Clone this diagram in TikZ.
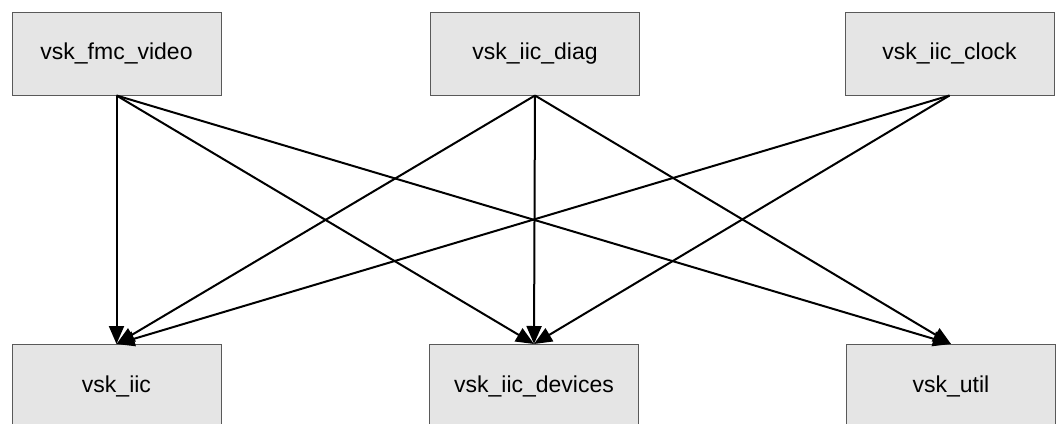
\documentclass[tikz,border=0pt]{standalone}
\usepackage{fontspec}
\setmainfont{Liberation Sans}
\usetikzlibrary{arrows.meta}
\tikzset{module/.style={draw=black!65,fill=black!10,line width=1pt,minimum width=209pt,minimum height=83pt,inner sep=0pt,font=\fontsize{23}{27}\selectfont},
         dep/.style={-{Triangle[length=18pt,width=15pt]},line width=2pt},
        }

\begin{document}
\begin{tikzpicture}[x=1pt,y=-1pt]
        \useasboundingbox(0,0)rectangle(1056,423);
        \node[module](fmc)at(116.5,53.5){vsk\_fmc\_video};
        \node[module](diag)at(535,53.5){vsk\_iic\_diag};
        \node[module](clock)at(949.5,53.5){vsk\_iic\_clock};

        \node[module](iic)at(116.5,386){vsk\_iic};
        \node[module](dev)at(534,386){vsk\_iic\_devices};
        \node[module](util)at(951,386){vsk\_util};

        \draw[dep](fmc.south)--(iic.north);
        \draw[dep](fmc.south)--(dev.north);
        \draw[dep](fmc.south)--(util.north);
        \draw[dep](diag.south)--(iic.north);
        \draw[dep](diag.south)--(dev.north);
        \draw[dep](diag.south)--(util.north);
        \draw[dep](clock.south)--(iic.north);
        \draw[dep](clock.south)--(dev.north);
    \end{tikzpicture}
\end{document}
